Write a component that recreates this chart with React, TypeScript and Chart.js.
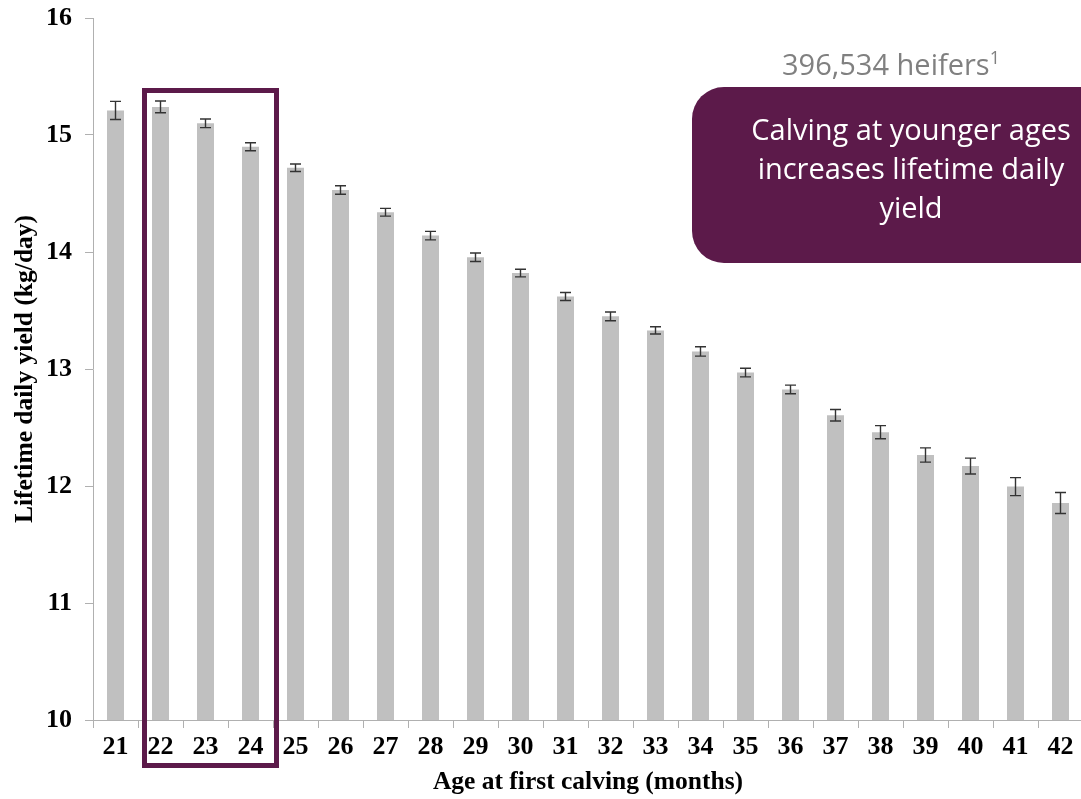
import React, { useEffect, useRef } from "react";
import { Chart, registerables } from "chart.js";

Chart.register(...registerables);

const categories: string[] = ["21","22","23","24","25","26","27","28","29","30","31","32","33","34","35","36","37","38","39","40","41","42"];
const yieldValues: number[] = [15.21,15.24,15.10,14.90,14.72,14.53,14.34,14.14,13.955,13.82,13.62,13.45,13.33,13.15,12.97,12.825,12.605,12.46,12.265,12.17,11.995,11.855];
const yieldErrors: number[] = [0.077,0.05,0.037,0.034,0.032,0.036,0.033,0.036,0.036,0.033,0.034,0.037,0.031,0.04,0.037,0.037,0.049,0.056,0.061,0.068,0.077,0.09];
const yTickValues: number[] = [10, 11, 12, 13, 14, 15, 16];
const highlightFrom = "22";
const highlightTo = "24";
const xTitle = "Age at first calving (months)";
const yTitle = "Lifetime daily yield (kg/day)";
const heifersLabel = "396,534 heifers";
const calloutLines: string[] = ["Calving at younger ages", "increases lifetime daily", "yield"];

const PURPLE = "#5c1a4a";
const SERIF = "'Liberation Serif', 'Times New Roman', serif";

const errorBarPlugin = {
  id: "errorBars",
  afterDatasetsDraw(chart: any) {
    const meta = chart.getDatasetMeta(0);
    const y = chart.scales.y;
    const ctx = chart.ctx;
    ctx.save();
    ctx.strokeStyle = "#333333";
    ctx.lineWidth = 1.4;
    meta.data.forEach((bar: any, i: number) => {
      const v = yieldValues[i];
      const e = yieldErrors[i];
      const yt = y.getPixelForValue(v + e);
      const yb = y.getPixelForValue(v - e);
      const x = bar.x;
      ctx.beginPath();
      ctx.moveTo(x, yt);
      ctx.lineTo(x, yb);
      ctx.moveTo(x - 5.5, yt);
      ctx.lineTo(x + 5.5, yt);
      ctx.moveTo(x - 5.5, yb);
      ctx.lineTo(x + 5.5, yb);
      ctx.stroke();
    });
    ctx.restore();
  },
};

const highlightPlugin = {
  id: "highlightBox",
  afterDraw(chart: any) {
    const x = chart.scales.x;
    const area = chart.chartArea;
    const i0 = categories.indexOf(highlightFrom);
    const i1 = categories.indexOf(highlightTo);
    const half = (x.getPixelForValue(1) - x.getPixelForValue(0)) / 2;
    const left = x.getPixelForValue(i0) - half + 6.5;
    const right = x.getPixelForValue(i1) + half + 3.5;
    const top = area.top + 72.5;
    const bottom = area.bottom + 45.5;
    const ctx = chart.ctx;
    ctx.save();
    ctx.strokeStyle = PURPLE;
    ctx.lineWidth = 5;
    ctx.strokeRect(left, top, right - left, bottom - top);
    ctx.restore();
  },
};

function zeroPadding(scale: any) {
  scale.paddingTop = 0;
  scale.paddingBottom = 0;
  scale.paddingLeft = 0;
  scale.paddingRight = 0;
}

export default function App() {
  const canvasRef = useRef<HTMLCanvasElement | null>(null);

  useEffect(() => {
    const canvas = canvasRef.current;
    if (!canvas) return;
    const chart = new Chart(canvas, {
      type: "bar",
      data: {
        labels: categories,
        datasets: [
          {
            data: yieldValues,
            backgroundColor: "#c0c0c0",
            borderWidth: 0,
            barPercentage: 0.9,
            categoryPercentage: 0.42,
          },
        ],
      },
      options: {
        responsive: false,
        animation: false,
        devicePixelRatio: 1,
        layout: { padding: { top: 18, right: 17, bottom: 0, left: 0 } },
        plugins: {
          legend: { display: false },
          tooltip: { enabled: false },
        },
        scales: {
          x: {
            offset: true,
            grid: {
              offset: true,
              drawOnChartArea: false,
              drawTicks: true,
              tickLength: 8,
              color: "#b0b0b0",
              lineWidth: 1,
            },
            border: { display: true, color: "#b0b0b0", width: 1 },
            ticks: {
              color: "#000000",
              padding: 4,
              maxRotation: 0,
              autoSkip: false,
              font: { family: SERIF, size: 26, weight: "bold" },
            },
            title: {
              display: true,
              text: xTitle,
              color: "#000000",
              padding: { top: 0, bottom: 1 },
              font: { family: SERIF, size: 25.5, weight: "bold" },
            },
            afterFit(scale: any) {
              scale.height = 79;
              zeroPadding(scale);
            },
          },
          y: {
            min: 10,
            max: 16,
            afterBuildTicks(scale: any) {
              scale.ticks = yTickValues.map((v) => ({ value: v }));
            },
            grid: {
              drawOnChartArea: false,
              drawTicks: true,
              tickLength: 8,
              color: "#b0b0b0",
              lineWidth: 1,
            },
            border: { display: true, color: "#b0b0b0", width: 1 },
            ticks: {
              color: "#000000",
              padding: 13,
              font: { family: SERIF, size: 26, weight: "bold" },
            },
            title: {
              display: true,
              text: yTitle,
              color: "#000000",
              padding: { top: 10, bottom: 0 },
              font: { family: SERIF, size: 25.5, weight: "bold" },
            },
            afterFit(scale: any) {
              scale.width = 93;
              zeroPadding(scale);
            },
          },
        },
      },
      plugins: [errorBarPlugin, highlightPlugin],
    });
    return () => chart.destroy();
  }, []);

  return (
    <div
      style={{
        position: "fixed",
        left: 0,
        top: 0,
        width: 1081,
        height: 799,
        overflow: "hidden",
        background: "#ffffff",
      }}
    >
      <canvas
        ref={canvasRef}
        width={1100}
        height={799}
        style={{ position: "absolute", left: 0, top: 0, width: 1100, height: 799 }}
      />
      <div
        style={{
          position: "absolute",
          left: 691,
          top: 49,
          width: 400,
          textAlign: "center",
          fontFamily: "'Open Sans', sans-serif",
          fontSize: 29,
          lineHeight: "30px",
          color: "#808080",
          whiteSpace: "nowrap",
        }}
      >
        {heifersLabel}
        <span style={{ fontSize: 18, position: "relative", top: -11 }}>1</span>
      </div>
      <div
        style={{
          position: "absolute",
          left: 692,
          top: 87,
          width: 438,
          height: 176,
          borderRadius: 32,
          background: PURPLE,
        }}
      />
      <div
        style={{
          position: "absolute",
          left: 692,
          top: 109,
          width: 438,
          textAlign: "center",
          fontFamily: "'Open Sans', sans-serif",
          fontSize: 29,
          lineHeight: "39px",
          color: "#ffffff",
          whiteSpace: "nowrap",
        }}
      >
        {calloutLines.map((l, i) => (
          <div key={i}>{l}</div>
        ))}
      </div>
    </div>
  );
}
